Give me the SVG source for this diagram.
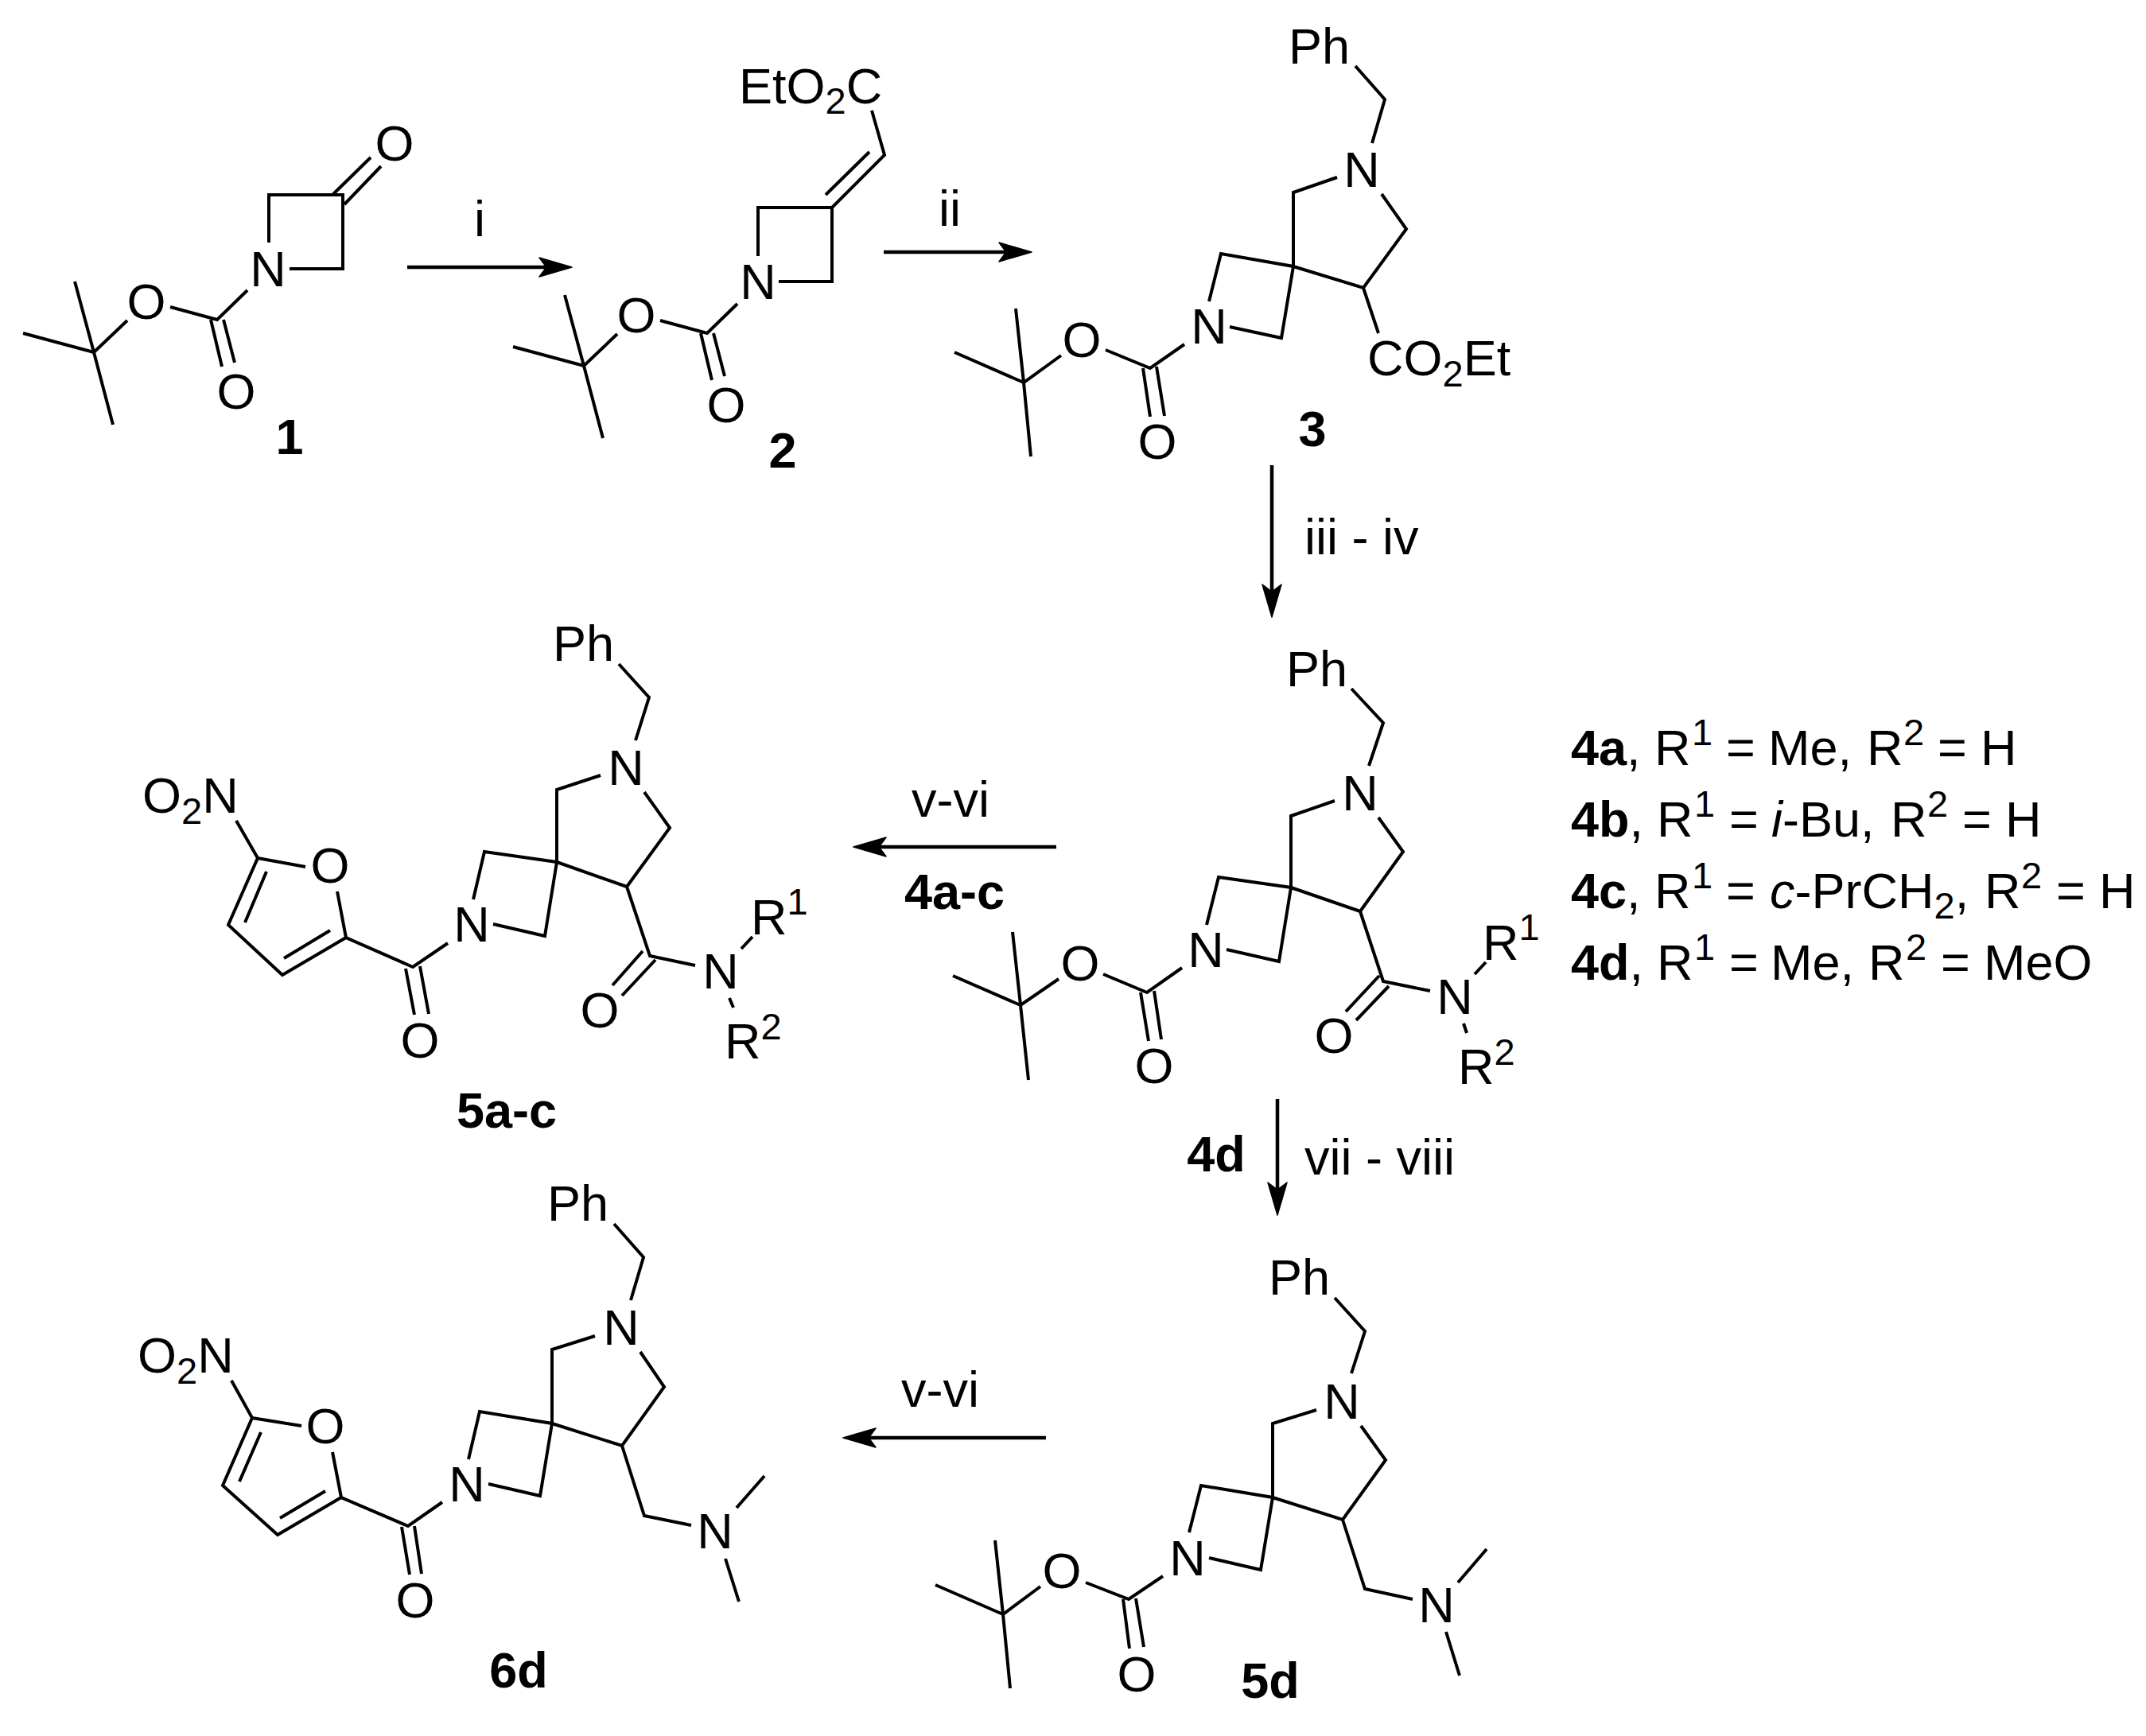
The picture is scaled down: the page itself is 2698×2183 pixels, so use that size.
<svg xmlns="http://www.w3.org/2000/svg" width="2698" height="2183" viewBox="0 0 2698 2183">
<style>
text{font-family:"Liberation Sans",Arial,sans-serif;font-size:63px;fill:#000}
.m{text-anchor:middle}
.s{font-size:47px}
.b{font-weight:700}
.i{font-style:italic}
.bd{fill:none;stroke:#000;stroke-width:4;stroke-linejoin:miter;stroke-linecap:butt}
.ar{fill:none;stroke:#000;stroke-width:4.5}
</style>
<defs>
<marker id="ah" markerUnits="userSpaceOnUse" viewBox="0 0 43 26" refX="31" refY="13" markerWidth="43" markerHeight="26" orient="auto">
<path d="M1,1L42,13L1,25L10,13Z" fill="#000" stroke="#000" stroke-width="1.5" stroke-linejoin="round"/>
</marker>
</defs>
<rect width="2698" height="2183" fill="#fff"/>
<g id="connectors">
<path class="ar" marker-end="url(#ah)" d="M512,336H708"/>
<path class="ar" marker-end="url(#ah)" d="M1111,317H1286"/>
<path class="ar" marker-end="url(#ah)" d="M1599,585V765"/>
<path class="ar" marker-end="url(#ah)" d="M1328,1065H1084"/>
<path class="ar" marker-end="url(#ah)" d="M1606,1382V1517"/>
<path class="ar" marker-end="url(#ah)" d="M1315,1808H1071"/>
<text class="m" x="603" y="297">i</text>
<text class="m" x="1194" y="284">ii</text>
<text x="1640" y="697">iii - iv</text>
<text class="m" x="1195" y="1027">v-vi</text>
<text class="m b" x="1200" y="1143">4a-c</text>
<text class="m b" x="1529" y="1473">4d</text>
<text x="1640" y="1477">vii - viii</text>
<text class="m" x="1182" y="1769">v-vi</text>
</g>
<g id="compound-1">
<path class="bd" d="M94,354L118,443L142,534M29,419L118,443L160,403M214,386L273,402L311,365M265,402L279,461M281,402L295,456M338,305V245H431V338H364M419,244L466,198M433,257L479,209"/>
<text class="m" x="337" y="360">N</text><text class="m" x="184" y="401">O</text><text class="m" x="297" y="514">O</text><text class="m" x="496" y="202">O</text>
<text class="m b" x="364" y="571">1</text>
</g>
<g id="compound-2">
<path class="bd" d="M710,371L734,460L758,551M645,436L734,460L776,420M830,403L889,419L927,382M881,419L895,478M897,419L911,473M953,322V261H1046V354H979M1046,261L1112,195L1096,139M1093,191L1038,245"/>
<text class="m" x="953" y="376">N</text><text class="m" x="800" y="418">O</text><text class="m" x="913" y="531">O</text>
<text x="929" y="130">EtO<tspan class="s" dy="13">2</tspan><tspan dy="-13">C</tspan></text>
<text class="m b" x="984" y="588">2</text>
</g>
<g id="compound-3">
<path class="bd" d="M1704,83L1741,125L1725,180M1681,223L1626,242V335M1737,244L1768,288L1714,362L1626,335M1520,379L1535,319L1626,335L1611,425L1546,411M1714,362L1733,419M1489,433L1446,463L1390,440M1334,447L1287,481L1277,388M1200,443L1287,481L1296,574M1437,463L1446,524M1454,461L1464,523"/>
<text x="1620" y="80">Ph</text><text class="m" x="1712" y="235">N</text><text class="m" x="1520" y="432">N</text><text class="m" x="1360" y="449">O</text><text class="m" x="1455" y="577">O</text>
<text x="1719" y="472">CO<tspan class="s" dy="14">2</tspan><tspan dy="-14">Et</tspan></text>
<text class="m b" x="1650" y="561">3</text>
</g>
<g id="compound-4">
<path class="bd" d="M1699,866L1739,909L1721,963M1678,1007L1623,1026V1116M1733,1028L1764,1071L1710,1146L1623,1116M1517,1163L1532,1103L1623,1116L1608,1209L1542,1194M1710,1146L1739,1234L1798,1246M1734,1227L1692,1272M1746,1240L1705,1283M1854,1225L1868,1210M1840,1287L1844,1299M1486,1217L1442,1248L1387,1225M1331,1231L1283,1264L1273,1172M1198,1227L1283,1264L1293,1358M1434,1248L1444,1309M1451,1246L1460,1307"/>
<text x="1617" y="863">Ph</text><text class="m" x="1710" y="1019">N</text><text class="m" x="1516" y="1216">N</text><text class="m" x="1358" y="1233">O</text><text class="m" x="1451" y="1362">O</text><text class="m" x="1677" y="1324">O</text><text class="m" x="1829" y="1275">N</text>
<text x="1864" y="1207">R<tspan class="s" dy="-25">1</tspan></text>
<text x="1833" y="1363">R<tspan class="s" dy="-24">2</tspan></text>
</g>
<g id="legend">
<text y="962"><tspan class="b" x="1975">4a</tspan>,<tspan x="2080">R</tspan><tspan class="s" x="2127" y="937">1</tspan><tspan x="2170" y="962">=</tspan><tspan x="2223">Me,</tspan><tspan x="2347">R</tspan><tspan class="s" x="2393" y="937">2</tspan><tspan x="2436" y="962">=</tspan><tspan x="2490">H</tspan></text>
<text y="1052"><tspan class="b" x="1975">4b</tspan>,<tspan x="2083">R</tspan><tspan class="s" x="2130" y="1027">1</tspan><tspan x="2174" y="1052">=</tspan><tspan class="i" x="2227">i</tspan>-Bu,<tspan x="2377">R</tspan><tspan class="s" x="2423" y="1027">2</tspan><tspan x="2467" y="1052">=</tspan><tspan x="2521">H</tspan></text>
<text y="1142"><tspan class="b" x="1975">4c</tspan>,<tspan x="2080">R</tspan><tspan class="s" x="2127" y="1117">1</tspan><tspan x="2170" y="1142">=</tspan><tspan class="i" x="2225">c</tspan>-PrCH<tspan class="s" dy="13">2</tspan><tspan dy="-13">,</tspan><tspan x="2495">R</tspan><tspan class="s" x="2541" y="1117">2</tspan><tspan x="2585" y="1142">=</tspan><tspan x="2639">H</tspan></text>
<text y="1232"><tspan class="b" x="1975">4d</tspan>,<tspan x="2083">R</tspan><tspan class="s" x="2130" y="1207">1</tspan><tspan x="2174" y="1232">=</tspan><tspan x="2226">Me,</tspan><tspan x="2349">R</tspan><tspan class="s" x="2396" y="1207">2</tspan><tspan x="2440" y="1232">=</tspan><tspan x="2494">MeO</tspan></text>
</g>
<g id="compound-5a-c">
<path class="bd" d="M778,835L816,877L799,931M755,975L700,993V1084M810,996L842,1041L788,1115L700,1084M595,1131L609,1071L700,1084L685,1177L620,1162M563,1186L519,1216L435,1179L424,1121M510,1218L521,1276M528,1215L539,1275M435,1179L355,1226L287,1163L324,1079L384,1090M415,1170L357,1205M308,1160L335,1096M324,1079L297,1032M788,1115L817,1202L874,1214M808,1196L770,1239M824,1207L782,1252M932,1193L946,1178M917,1255L922,1267"/>
<text x="695" y="831">Ph</text><text class="m" x="787" y="987">N</text><text class="m" x="593" y="1184">N</text><text class="m" x="528" y="1330">O</text><text class="m" x="415" y="1110">O</text><text class="m" x="754" y="1292">O</text><text class="m" x="906" y="1243">N</text>
<text x="179" y="1022">O<tspan class="s" dy="14">2</tspan><tspan dy="-14">N</tspan></text>
<text x="944" y="1175">R<tspan class="s" dy="-25">1</tspan></text>
<text x="911" y="1331">R<tspan class="s" dy="-24">2</tspan></text>
<text class="m b" x="637" y="1418">5a-c</text>
</g>
<g id="compound-6d">
<path class="bd" d="M772,1539L809,1581L793,1635M748,1680L694,1697V1790M805,1700L835,1744L782,1818L694,1790M589,1835L603,1775L694,1790L679,1881L614,1866M556,1889L513,1919L429,1883L418,1826M505,1920L515,1980M521,1919L530,1979M429,1883L349,1930L280,1868L317,1783L379,1793M409,1875L352,1909M301,1863L328,1801M317,1783L291,1736M782,1818L810,1906L869,1918M926,1896L961,1856M912,1960L929,2014"/>
<text x="688" y="1535">Ph</text><text class="m" x="781" y="1691">N</text><text class="m" x="587" y="1888">N</text><text class="m" x="522" y="2034">O</text><text class="m" x="409" y="1815">O</text><text class="m" x="899" y="1947">N</text>
<text x="173" y="1726">O<tspan class="s" dy="14">2</tspan><tspan dy="-14">N</tspan></text>
<text class="m b" x="652" y="2122">6d</text>
</g>
<g id="compound-5d">
<path class="bd" d="M1678,1632L1716,1674L1699,1727M1655,1773L1600,1790V1883M1711,1793L1742,1836L1688,1911L1600,1883M1495,1927L1510,1868L1600,1883L1585,1974L1520,1959M1462,1982L1419,2011L1365,1990M1308,1995L1261,2030L1251,1937M1176,1993L1261,2030L1270,2123M1412,2011L1420,2073M1428,2010L1438,2071M1688,1911L1716,1998L1776,2011M1833,1990L1869,1948M1818,2052L1835,2107"/>
<text x="1595" y="1628">Ph</text><text class="m" x="1687" y="1784">N</text><text class="m" x="1493" y="1981">N</text><text class="m" x="1335" y="1997">O</text><text class="m" x="1429" y="2127">O</text><text class="m" x="1806" y="2040">N</text>
<text class="m b" x="1597" y="2135">5d</text>
</g>
</svg>
